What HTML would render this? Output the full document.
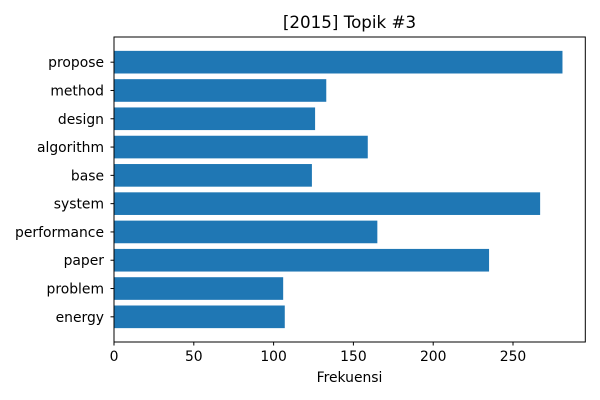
<!DOCTYPE html>
<html><head><meta charset="utf-8">
<style>
body{margin:0;background:#fff;}
svg{display:block;font-family:"DejaVu Sans","Liberation Sans",sans-serif;}
</style></head>
<body>
<svg id="chart" width="600" height="400" xmlns="http://www.w3.org/2000/svg">
<text x="349.5" y="28" font-size="16.7" text-anchor="middle">[2015] Topik #3</text>
<g id="bars"></g>
<g id="xticks"></g>
<g id="yticks"></g>
<rect x="114" y="37" width="471.3" height="305" fill="none" stroke="#000" stroke-width="1"/>
<text x="349.5" y="382" font-size="13.9" text-anchor="middle">Frekuensi</text>
</svg>
<script>
const categories = ["propose","method","design","algorithm","base","system","performance","paper","problem","energy"];
const values = [281,133,126,159,124,267,165,235,106,107];
const xTicks = [0,50,100,150,200,250];
const NS="http://www.w3.org/2000/svg";
const x0=114, x1=585.3, xMax=295.3;
const xs=v=>x0+(v/xMax)*(x1-x0);
const yTop=37, yBot=342, n=categories.length;
const span=(n-1)+0.8+0.98;
const step=(yBot-yTop)/span;
const yc=i=>yTop+(0.49+0.4+i)*step;
const bars=document.getElementById('bars');
const yt=document.getElementById('yticks');
categories.forEach((c,i)=>{
  const r=document.createElementNS(NS,'rect');
  r.setAttribute('x',x0);
  r.setAttribute('y',yc(i)-0.4*step);
  r.setAttribute('width',xs(values[i])-x0);
  r.setAttribute('height',0.8*step);
  r.setAttribute('fill','#1f77b4');
  
  
  bars.appendChild(r);
  const l=document.createElementNS(NS,'line');
  l.setAttribute('x1',x0-3.5);l.setAttribute('x2',x0);
  l.setAttribute('y1',yc(i));l.setAttribute('y2',yc(i));
  l.setAttribute('stroke','#000');
  
  
  yt.appendChild(l);
  const t=document.createElementNS(NS,'text');
  t.setAttribute('x',x0-10);t.setAttribute('y',yc(i)+5);
  t.setAttribute('font-size','13.9');t.setAttribute('text-anchor','end');
  t.textContent=c;
  
  
  yt.appendChild(t);
});
const xt=document.getElementById('xticks');
xTicks.forEach(v=>{
  const l=document.createElementNS(NS,'line');
  l.setAttribute('x1',xs(v));l.setAttribute('x2',xs(v));
  l.setAttribute('y1',yBot);l.setAttribute('y2',yBot+3.5);
  l.setAttribute('stroke','#000');
  
  
  xt.appendChild(l);
  const t=document.createElementNS(NS,'text');
  t.setAttribute('x',xs(v));t.setAttribute('y',yBot+19);
  t.setAttribute('font-size','13.9');t.setAttribute('text-anchor','middle');
  t.textContent=v;
  
  
  xt.appendChild(t);
});
</script>
</body></html>
